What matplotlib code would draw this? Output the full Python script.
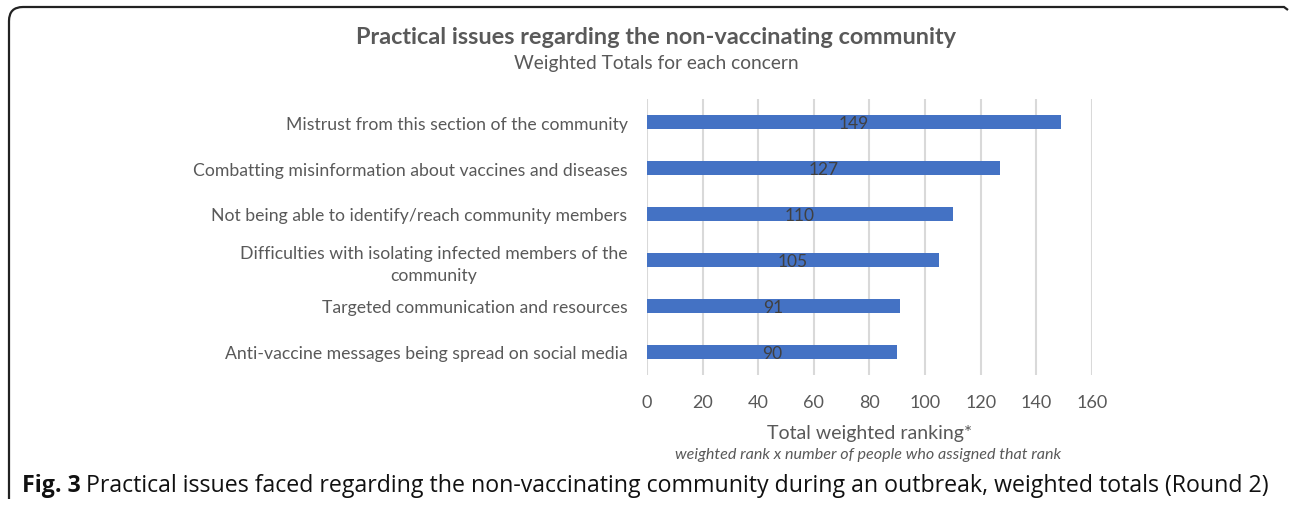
import matplotlib.pyplot as plt
from matplotlib.path import Path
from matplotlib.patches import PathPatch

concerns = [
    "Mistrust from this section of the community",
    "Combatting misinformation about vaccines and diseases",
    "Not being able to identify/reach community members",
    "Difficulties with isolating infected members of the\ncommunity",
    "Targeted communication and resources",
    "Anti-vaccine messages being spread on social media",
]
totals = [149, 127, 110, 105, 91, 90]
x_ticks = [0, 20, 40, 60, 80, 100, 120, 140, 160]

W, H = 1290, 506
plt.rcParams["font.family"] = ["Lato", "DejaVu Sans"]
text_grey = "#595959"

fig = plt.figure(figsize=(W / 100, H / 100), dpi=100)

# plot area in pixel units converted to figure fractions
left, right, top, bottom = 647, 1092, 100, 376
ax = fig.add_axes([left / W, 1 - bottom / H, (right - left) / W, (bottom - top) / H])

pos = list(range(len(concerns)))
ax.barh(pos, totals, height=0.29, color="#4472C4", zorder=3)
for p, v in zip(pos, totals):
    ax.text(v / 2, p + 0.03, str(v), ha="center", va="center", fontsize=12.5,
            color="#404040", zorder=4)

ax.set_xlim(0, 160)
ax.set_ylim(len(concerns) - 0.5, -0.5)
ax.set_xticks(x_ticks)
ax.set_yticks(pos)
ax.set_yticklabels(concerns, multialignment="center", linespacing=1.4)
ax.tick_params(axis="both", length=0, labelcolor=text_grey)
ax.tick_params(axis="y", pad=14, labelsize=12.7)
ax.tick_params(axis="x", pad=14, labelsize=13)
ax.grid(axis="x", color="#d9d9d9", linewidth=1.5, zorder=0)
for s in ax.spines.values():
    s.set_visible(False)

ax.set_xlabel("Total weighted ranking*", fontsize=14, color=text_grey, labelpad=10)
fig.text(868 / W, 1 - 455 / H, "weighted rank x number of people who assigned that rank",
         ha="center", va="center", fontsize=11.6, style="italic", color=text_grey)

fig.text(656 / W, 1 - 37 / H, "Practical issues regarding the non-vaccinating community",
         ha="center", va="center", fontsize=16.9, weight="bold", color=text_grey)
fig.text(656 / W, 1 - 64 / H, "Weighted Totals for each concern",
         ha="center", va="center", fontsize=13.8, color=text_grey)

# caption below the chart
cap_font = ["Open Sans", "DejaVu Sans"]
cap = fig.text(22 / W, 1 - 486 / H, "Fig. 3", ha="left", va="center", family=cap_font,
               fontsize=16.7, weight="bold", color="#111111")
fig.canvas.draw()
bb = cap.get_window_extent()
fig.text((bb.x1 + 5) / W, 1 - 486 / H,
         "Practical issues faced regarding the non-vaccinating community during an outbreak, "
         "weighted totals (Round 2)",
         ha="left", va="center", family=cap_font, fontsize=16.7, color="#111111")

# frame around the figure, rounded at the top left
r = 14
verts = [(9, 500), (9, 8 + r), (9, 8), (9 + r, 8), (1284, 8), (1288, 11)]
codes = [Path.MOVETO, Path.LINETO, Path.CURVE3, Path.CURVE3, Path.LINETO, Path.LINETO]
verts = [(x / W, 1 - y / H) for x, y in verts]
fig.patches.append(PathPatch(Path(verts, codes), transform=fig.transFigure,
                             fill=False, edgecolor="#222222", linewidth=1.6))

fig.savefig("out.png", dpi=100)
